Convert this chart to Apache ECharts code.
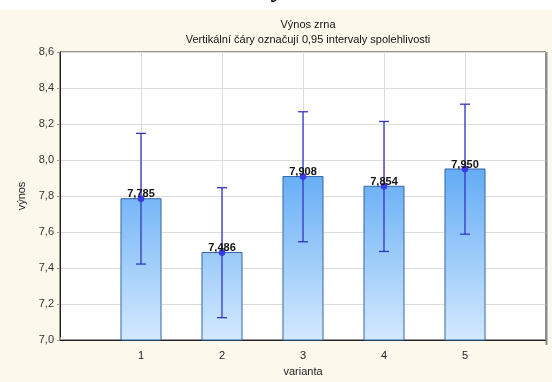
<!DOCTYPE html>
<html>
<head>
<meta charset="utf-8">
<script src="https://cdn.jsdelivr.net/npm/echarts@6/dist/echarts.min.js"></script>
<style>
  html, body { margin: 0; padding: 0; background: #fff; }
  #chart { width: 552px; height: 382px; }
</style>
</head>
<body>
<div id="chart"></div>
<script>
// Varianty a průměrné výnosy s 95% intervaly spolehlivosti
const varianty = [1, 2, 3, 4, 5];
const prumer = [7.785, 7.486, 7.908, 7.854, 7.950];
const dolniMez = [7.422, 7.124, 7.546, 7.492, 7.588];
const horniMez = [8.148, 7.846, 8.268, 8.214, 8.310];
const yTicks = [7.0, 7.2, 7.4, 7.6, 7.8, 8.0, 8.2, 8.4, 8.6];

const FONT = '"Liberation Sans", Arial, sans-serif';
const fmt = (v, d) => v.toFixed(d).replace('.', ',');

const rows = varianty.map((v, i) => [v, prumer[i], dolniMez[i], horniMez[i]]);

const chart = echarts.init(document.getElementById('chart'), null, { renderer: 'canvas' });

chart.setOption({
  backgroundColor: '#ffffff',
  animation: false,
  graphic: [
    { type: 'rect', z: -10, shape: { x: 0, y: 10, width: 552, height: 372 }, style: { fill: '#fdf8ec' } },
    { type: 'text', z: -5, x: 295, y: -23,
      style: { text: 'Graf výnosů zrna', font: 'bold 26px "Liberation Serif", serif', fill: '#000', align: 'center', verticalAlign: 'top' } },
    // šedý stín pravého okraje grafu
    { type: 'line', z: 5, shape: { x1: 546.5, y1: 52, x2: 546.5, y2: 345 }, style: { stroke: '#8a8a8a', lineWidth: 2 } }
  ],
  title: {
    text: 'Výnos zrna\nVertikální čáry označují 0,95 intervaly spolehlivosti',
    left: 303, top: 12, textAlign: 'center',
    textStyle: { fontFamily: FONT, fontSize: 11, fontWeight: 'normal', color: '#111', lineHeight: 15 }
  },
  grid: {
    left: 60, top: 52, width: 486, height: 293,
    show: true, backgroundColor: '#ffffff', borderColor: '#333', borderWidth: 1
  },
  xAxis: {
    type: 'value', min: 0, max: 6, interval: 1,
    name: 'varianta', nameLocation: 'middle', nameGap: 26,
    nameTextStyle: { fontFamily: FONT, fontSize: 11, color: '#222' },
    axisLine: { show: true, lineStyle: { color: '#222' } },
    axisTick: { show: true, inside: true, length: 3, lineStyle: { color: '#888' } },
    axisLabel: {
      fontFamily: FONT, fontSize: 11, color: '#222', margin: 10,
      formatter: v => (varianty.indexOf(v) >= 0 ? String(v) : '')
    },
    splitLine: { show: true, lineStyle: { color: '#dcdcdc', width: 1 } }
  },
  yAxis: {
    type: 'value', min: yTicks[0], max: yTicks[yTicks.length - 1], interval: 0.2,
    name: 'výnos', nameLocation: 'middle', nameGap: 31, nameRotate: 90,
    nameTextStyle: { fontFamily: FONT, fontSize: 11, color: '#222' },
    axisLine: { show: true, lineStyle: { color: '#222' } },
    axisTick: { show: true, length: 3, lineStyle: { color: '#999' } },
    axisLabel: { fontFamily: FONT, fontSize: 11, color: '#333', margin: 6, formatter: v => fmt(v, 1) },
    splitLine: { show: true, lineStyle: { color: '#dcdcdc', width: 1 } }
  },
  series: [
    {
      // sloupce průměrů
      type: 'custom',
      data: rows,
      encode: { x: 0, y: 1 },
      renderItem: (params, api) => {
        const x = api.value(0), m = api.value(1);
        const base = api.coord([x, yTicks[0]]);
        const top = api.coord([x, m]);
        const half = api.size([1, 0])[0] * 0.247;
        const cs = params.coordSys;
        return {
          type: 'rect',
          shape: { x: top[0] - half, y: top[1], width: half * 2, height: base[1] - top[1] },
          style: {
            fill: new echarts.graphic.LinearGradient(0, cs.y + 95, 0, cs.y + cs.height, [
              { offset: 0, color: '#55a4f4' },
              { offset: 1, color: '#d3e9fe' }
            ], true),
            stroke: '#3566a8', lineWidth: 1
          }
        };
      },
      z: 2
    },
    {
      // intervaly spolehlivosti, body průměru a popisky
      type: 'custom',
      data: rows,
      encode: { x: 0, y: [1, 2, 3] },
      renderItem: (params, api) => {
        const x = api.value(0), m = api.value(1), lo = api.value(2), hi = api.value(3);
        const pm = api.coord([x, m]);
        const pl = api.coord([x, lo]);
        const ph = api.coord([x, hi]);
        const cap = 5;
        const col = '#3434c4';
        return {
          type: 'group',
          children: [
            { type: 'line', shape: { x1: ph[0], y1: ph[1], x2: pl[0], y2: pl[1] }, style: { stroke: col, lineWidth: 1.3 } },
            { type: 'line', shape: { x1: ph[0] - cap, y1: ph[1], x2: ph[0] + cap, y2: ph[1] }, style: { stroke: col, lineWidth: 1.3 } },
            { type: 'line', shape: { x1: pl[0] - cap, y1: pl[1], x2: pl[0] + cap, y2: pl[1] }, style: { stroke: col, lineWidth: 1.3 } },
            { type: 'circle', shape: { cx: pm[0], cy: pm[1], r: 3 }, style: { fill: '#3a3ae6', stroke: '#3a3ae6' } },
            { type: 'text', x: pm[0], y: pm[1] + 1,
              style: { text: fmt(m, 3), font: 'bold 11px ' + FONT, fill: '#111', align: 'center', verticalAlign: 'bottom' } }
          ]
        };
      },
      z: 3
    }
  ]
});
</script>
</body>
</html>
